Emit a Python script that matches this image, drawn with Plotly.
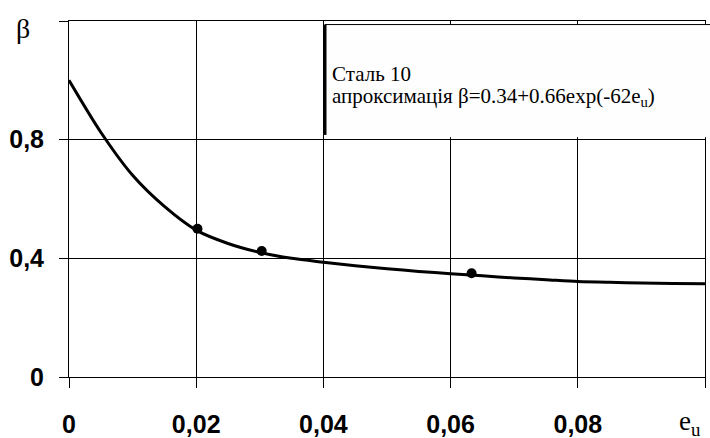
import plotly.graph_objects as go

# Approximating curve for steel 10, sampled along the strain axis
curve_eu = [0.0, 0.005, 0.01, 0.015, 0.02, 0.025, 0.03, 0.035, 0.04, 0.045,
            0.05, 0.055, 0.06, 0.065, 0.07, 0.075, 0.08, 0.085, 0.09, 0.095, 0.1]
curve_beta = [1.00, 0.825, 0.68, 0.575, 0.495, 0.45, 0.42, 0.40, 0.387, 0.375,
              0.365, 0.356, 0.348, 0.341, 0.334, 0.328, 0.322, 0.319, 0.317, 0.315, 0.314]

# Experimental points
exp_eu = [0.0202, 0.0303, 0.0633]
exp_beta = [0.50, 0.425, 0.35]

# Axis ticks
x_tickvals = [0.0, 0.02, 0.04, 0.06, 0.08, 0.1]
x_ticktext = ["0", "0,02", "0,04", "0,06", "0,08", ""]
y_tickvals = [0.0, 0.4, 0.8, 1.2]
y_ticktext = ["0", "0,4", "0,8", ""]

fig = go.Figure()

fig.add_trace(go.Scatter(
    x=curve_eu, y=curve_beta, mode="lines",
    line=dict(color="black", width=3, shape="spline", smoothing=0.8),
    showlegend=False, hoverinfo="skip",
))
fig.add_trace(go.Scatter(
    x=exp_eu, y=exp_beta, mode="markers",
    marker=dict(color="black", size=10),
    showlegend=False,
))

tick_font = dict(family="Liberation Sans", size=25, color="black", weight="bold")

fig.update_xaxes(
    range=[0, 0.1], tickvals=x_tickvals, ticktext=x_ticktext,
    showgrid=True, gridcolor="black", gridwidth=1, zeroline=False,
    showline=True, mirror=True, linecolor="black", linewidth=1,
    ticks="outside", ticklen=10, tickcolor="black", tickwidth=1,
    tickfont=tick_font, ticklabelstandoff=15, automargin=False,
)
fig.update_yaxes(
    range=[0, 1.2], tickvals=y_tickvals, ticktext=y_ticktext,
    showgrid=True, gridcolor="black", gridwidth=1, zeroline=False,
    showline=True, mirror=True, linecolor="black", linewidth=1,
    ticks="outside", ticklen=9, tickcolor="black", tickwidth=1,
    tickfont=tick_font, ticklabelstandoff=10, automargin=False,
)

# Caption box in the upper right cell block (panel hiding the grid)
fig.add_shape(type="rect", xref="paper", yref="paper", x0=0.4025, x1=1.008, y0=0.675, y1=0.99,
              fillcolor="#fefefe", line=dict(color="#fefefe", width=1), layer="above")
fig.add_shape(type="line", xref="paper", yref="paper", x0=0.4025, x1=1.008, y0=0.99, y1=0.99,
              line=dict(color="black", width=1), layer="above")
fig.add_shape(type="line", xref="paper", yref="paper", x0=0.4025, x1=0.4025, y0=0.68, y1=0.99,
              line=dict(color="black", width=3), layer="above")

serif = "Liberation Serif"
fig.add_annotation(text="Сталь 10", xref="paper", yref="paper", x=0.411, y=0.85,
                   xanchor="left", yanchor="middle", showarrow=False,
                   font=dict(family=serif, size=21, color="black"))
fig.add_annotation(text="апроксимація β=0.34+0.66exp(-62e<sub>u</sub>)", xref="paper", yref="paper",
                   x=0.411, y=0.786, xanchor="left", yanchor="middle", showarrow=False,
                   font=dict(family=serif, size=21, color="black"))

# Axis names
fig.add_annotation(text="β", xref="paper", yref="paper", x=-0.073, y=0.98,
                   xanchor="center", yanchor="middle", showarrow=False,
                   font=dict(family=serif, size=28, color="black"))
fig.add_annotation(text="e<sub>u</sub>", xref="paper", yref="paper", x=0.977, y=-0.128,
                   xanchor="center", yanchor="middle", showarrow=False,
                   font=dict(family=serif, size=27, color="black"))

fig.update_layout(
    width=710, height=438, autosize=False,
    margin=dict(l=69, r=5, t=21, b=61),
    plot_bgcolor="white", paper_bgcolor="white",
    showlegend=False,
)

fig.write_html("out.html")
